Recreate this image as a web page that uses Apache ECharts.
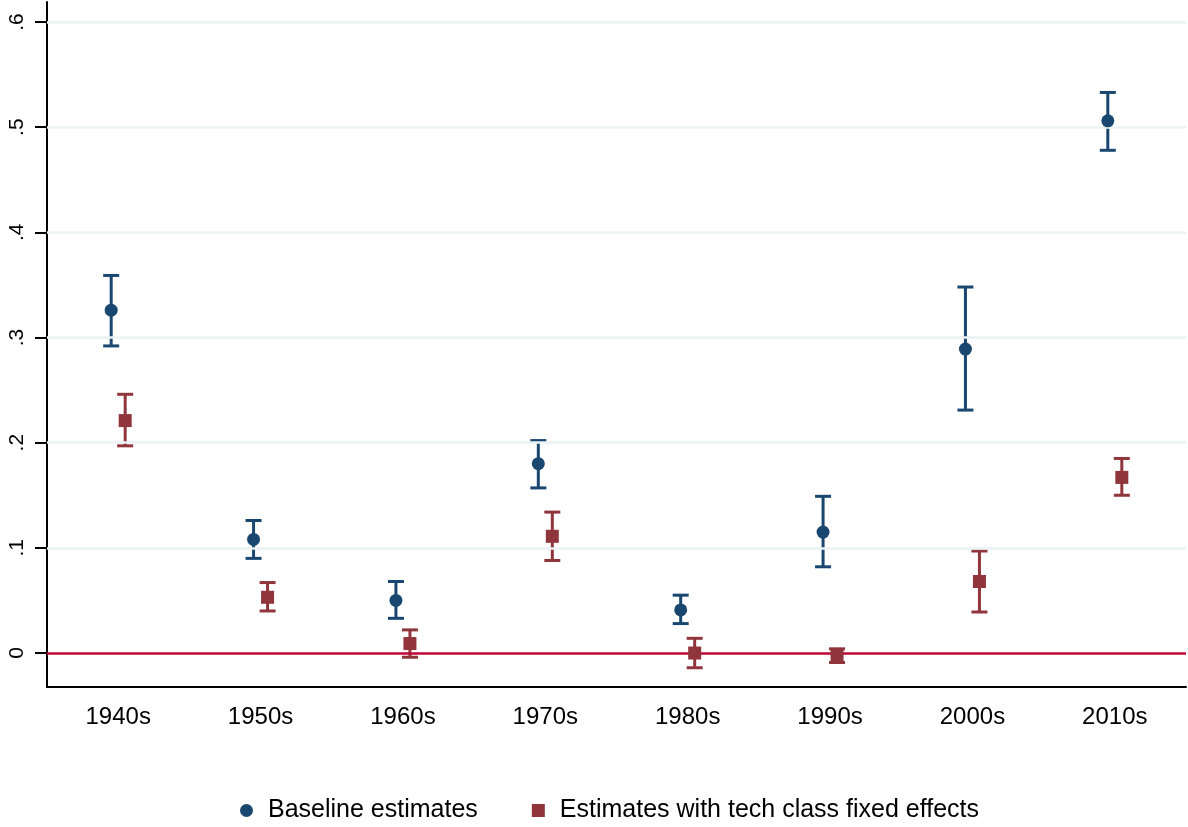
<!DOCTYPE html>
<html>
<head>
<meta charset="utf-8">
<script src="https://cdn.jsdelivr.net/npm/echarts@6/dist/echarts.min.js"></script>
<style>
  html, body { margin: 0; padding: 0; background: #fff; }
  #chart { width: 1188px; height: 827px; }
</style>
</head>
<body>
<div id="chart"></div>
<script>
const decades = ['1940s', '1950s', '1960s', '1970s', '1980s', '1990s', '2000s', '2010s'];

// baseline estimates with 95% bounds
const baseEst = [0.326, 0.108, 0.050, 0.180, 0.041, 0.115, 0.289, 0.506];
const baseLow = [0.292, 0.090, 0.033, 0.157, 0.028, 0.082, 0.231, 0.478];
const baseHigh = [0.359, 0.126, 0.068, 0.202, 0.055, 0.149, 0.348, 0.533];

// estimates with tech class fixed effects
const fixedEst = [0.221, 0.053, 0.009, 0.111, 0.000, -0.003, 0.068, 0.167];
const fixedLow = [0.197, 0.040, -0.004, 0.088, -0.014, -0.009, 0.039, 0.150];
const fixedHigh = [0.246, 0.067, 0.022, 0.134, 0.014, 0.004, 0.097, 0.185];

const yTicks = [0, 0.1, 0.2, 0.3, 0.4, 0.5, 0.6];

const BLUE = '#1a476f';
const RED = '#90353b';
const FONT = 'Liberation Sans, Arial, sans-serif';

const chart = echarts.init(document.getElementById('chart'));

function errorBars(offset, color) {
    return function (params, api) {
        const x = api.value(0);
        const lo = api.coord([x, api.value(1)]);
        const hi = api.coord([x, api.value(2)]);
        const cx = lo[0] + offset;
        const style = { stroke: color, lineWidth: 3 };
        return {
            type: 'group',
            children: [
                { type: 'line', shape: { x1: cx, y1: lo[1], x2: cx, y2: hi[1] }, style: style },
                { type: 'line', shape: { x1: cx - 8, y1: lo[1], x2: cx + 8, y2: lo[1] }, style: style },
                { type: 'line', shape: { x1: cx - 8, y1: hi[1], x2: cx + 8, y2: hi[1] }, style: style }
            ]
        };
    };
}

const option = {
    backgroundColor: '#fff',
    animation: false,
    textStyle: { fontFamily: FONT },
    grid: { left: 47, right: 2, top: 2, bottom: 140 },
    legend: {
        top: 793,
        left: 235,
        itemGap: 54,
        itemWidth: 13,
        itemHeight: 13,
        textStyle: { fontSize: 25, color: '#000', fontFamily: FONT, padding: [0, 0, 0, 10] },
        data: [
            { name: 'Baseline estimates', icon: 'circle', itemStyle: { color: BLUE } },
            { name: 'Estimates with tech class fixed effects', icon: 'rect', itemStyle: { color: RED } }
        ]
    },
    xAxis: {
        type: 'category',
        data: decades,
        boundaryGap: true,
        axisLine: { onZero: false, lineStyle: { color: '#000', width: 2 } },
        axisTick: { alignWithLabel: true, length: 11, lineStyle: { color: '#000', width: 2 } },
        axisLabel: { fontSize: 24, color: '#000', margin: 18 },
        splitLine: { show: false }
    },
    yAxis: {
        type: 'value',
        min: -0.0323,
        max: 0.619,
        axisLine: { show: true, lineStyle: { color: '#000', width: 2 } },
        axisTick: { show: true, length: 12, customValues: yTicks, lineStyle: { color: '#000', width: 2 } },
        axisLabel: {
            rotate: 90,
            fontSize: 21,
            color: '#000',
            margin: 19,
            customValues: yTicks,
            formatter: function (v) { return v === 0 ? '0' : String(Math.round(v * 10) / 10).replace('0.', '.'); }
        },
        splitLine: { show: false }
    },
    series: [
        {
            name: 'grid',
            type: 'line',
            data: [],
            silent: true,
            markLine: {
                silent: true,
                symbol: 'none',
                label: { show: false },
                lineStyle: { color: '#eaf2f3', width: 2.5, type: 'solid' },
                data: yTicks.filter(v => v !== 0).map(v => ({ yAxis: v }))
            }
        },
        {
            name: 'zero',
            type: 'line',
            data: [],
            silent: true,
            z: 3,
            markLine: {
                silent: true,
                symbol: 'none',
                label: { show: false },
                lineStyle: { color: '#c10534', width: 2.6, type: 'solid' },
                data: [{ yAxis: 0 }]
            }
        },
        {
            name: 'baseBars',
            type: 'custom',
            z: 4,
            renderItem: errorBars(-7, BLUE),
            data: decades.map((d, i) => [i, baseLow[i], baseHigh[i]])
        },
        {
            name: 'fixedBars',
            type: 'custom',
            z: 4,
            renderItem: errorBars(7, RED),
            data: decades.map((d, i) => [i, fixedLow[i], fixedHigh[i]])
        },
        {
            name: 'Baseline estimates',
            type: 'scatter',
            z: 5,
            symbol: 'circle',
            symbolSize: 13,
            symbolOffset: [-7, 0],
            itemStyle: { color: BLUE, opacity: 1 },
            data: decades.map((d, i) => [i, baseEst[i]])
        },
        {
            name: 'Estimates with tech class fixed effects',
            type: 'scatter',
            z: 5,
            symbol: 'rect',
            symbolSize: 13,
            symbolOffset: [7, 0],
            itemStyle: { color: RED, opacity: 1 },
            data: decades.map((d, i) => [i, fixedEst[i]])
        }
    ]
};

chart.setOption(option);
</script>
</body>
</html>
